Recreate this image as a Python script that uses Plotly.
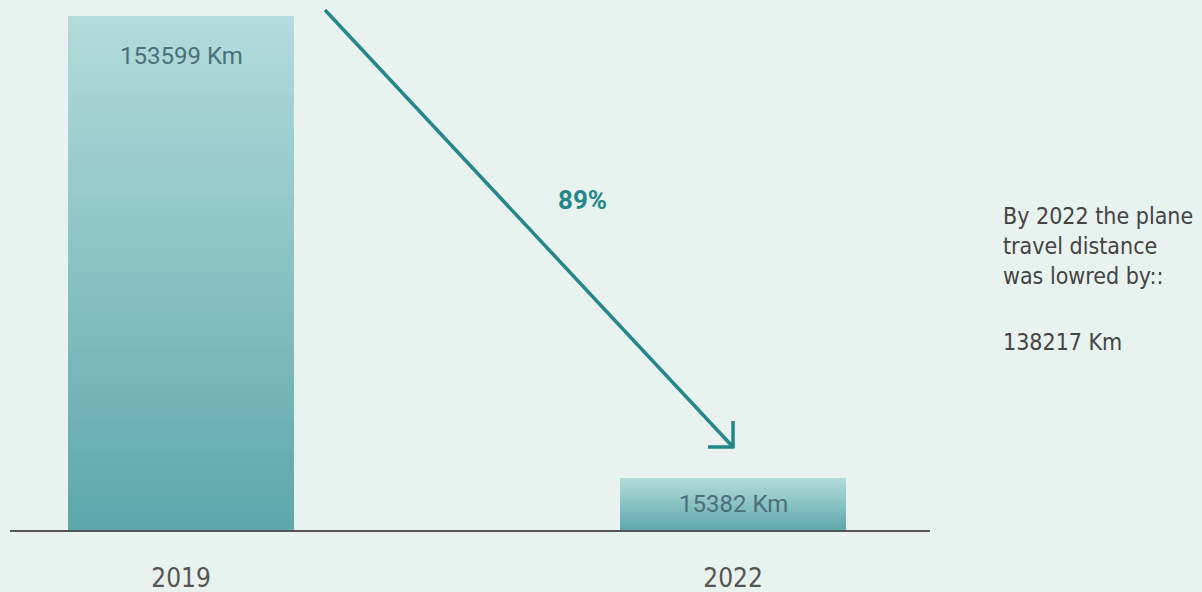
import plotly.graph_objects as go

# ---- data ----
years = ["2019", "2022"]
distances_km = [153599, 15382]
value_labels = ["153599 Km", "15382 Km"]
reduction_pct_label = "89%"
reduction_km = 138217
side_text_lines = ["By 2022 the plane", "travel distance", "was lowred by::"]
side_value_text = f"{reduction_km} Km"

# ---- style ----
BG = "#e8f2ee"
TOP_COLOR = (178, 219, 219)
BOTTOM_COLOR = (94, 168, 171)
ARROW_COLOR = "#23878b"
N_SLICES = 60
SIDE_FONT = dict(family="DejaVu Sans Condensed", size=23, color="#444444")
VALUE_FONT = dict(family="Roboto", size=24, color="#4d6f7c")

def lerp(c1, c2, t):
    return "rgb({},{},{})".format(*[round(a + (b - a) * t) for a, b in zip(c1, c2)])

fig = go.Figure()
# stacked slices produce a vertical gradient within each bar
for i in range(N_SLICES):
    t = i / (N_SLICES - 1)
    fig.add_trace(go.Bar(
        x=years,
        y=[v / N_SLICES for v in distances_km],
        width=0.41,
        marker=dict(color=lerp(BOTTOM_COLOR, TOP_COLOR, t), line=dict(width=0)),
        hoverinfo="skip",
        showlegend=False,
    ))

# value labels (category index positions)
label_offsets = [-40, None]
for idx, (v, lab, off) in enumerate(zip(distances_km, value_labels, label_offsets)):
    if off is None:
        fig.add_annotation(x=idx, y=v / 2, text=lab, showarrow=False,
                           font=VALUE_FONT, yanchor="middle")
    else:
        fig.add_annotation(x=idx, y=v, yshift=off, text=lab, showarrow=False,
                           font=VALUE_FONT, yanchor="middle")

# arrow (paper coordinates)
x0, y0, x1, y1 = 0.3424, 1.0117, 0.7859, 0.1615
aline = dict(color=ARROW_COLOR, width=3.5)
fig.add_shape(type="line", xref="paper", yref="paper", x0=x0, y0=y0, x1=x1, y1=y1, line=aline)
fig.add_shape(type="line", xref="paper", yref="paper", x0=x1, y0=y1 - 0.002, x1=x1, y1=0.212, line=aline)
fig.add_shape(type="line", xref="paper", yref="paper", x0=x1 + 0.0015, y0=y1, x1=0.7587, y1=y1, line=aline)

fig.add_annotation(xref="paper", yref="paper", x=0.622, y=0.642, text=f"<b>{reduction_pct_label}</b>",
                   showarrow=False, font=dict(family="Roboto", size=26, color=ARROW_COLOR),
                   xanchor="center", yanchor="middle")

fig.add_annotation(xref="paper", yref="paper", x=1.077, y=0.640, text="<br>".join(side_text_lines),
                   showarrow=False, align="left", xanchor="left", yanchor="top",
                   font=SIDE_FONT)
fig.add_annotation(xref="paper", yref="paper", x=1.077, y=0.3658, text=side_value_text,
                   showarrow=False, align="left", xanchor="left", yanchor="middle",
                   font=SIDE_FONT)

fig.update_layout(
    width=1202, height=592,
    barmode="stack",
    paper_bgcolor=BG, plot_bgcolor=BG,
    margin=dict(l=10, r=272, t=16, b=62),
    showlegend=False,
    xaxis=dict(type="category", range=[-0.3098, 1.3569], showgrid=False, zeroline=False,
               showline=True, linecolor="#555555", linewidth=1.5, ticks="", automargin=False,
               tickfont=dict(family="DejaVu Sans Condensed", size=26, color="#555555"),
               ticklabelstandoff=24),
    yaxis=dict(range=[0, max(distances_km)], visible=False, showgrid=False, zeroline=False,
               automargin=False),
)

fig.write_html("out.html")
